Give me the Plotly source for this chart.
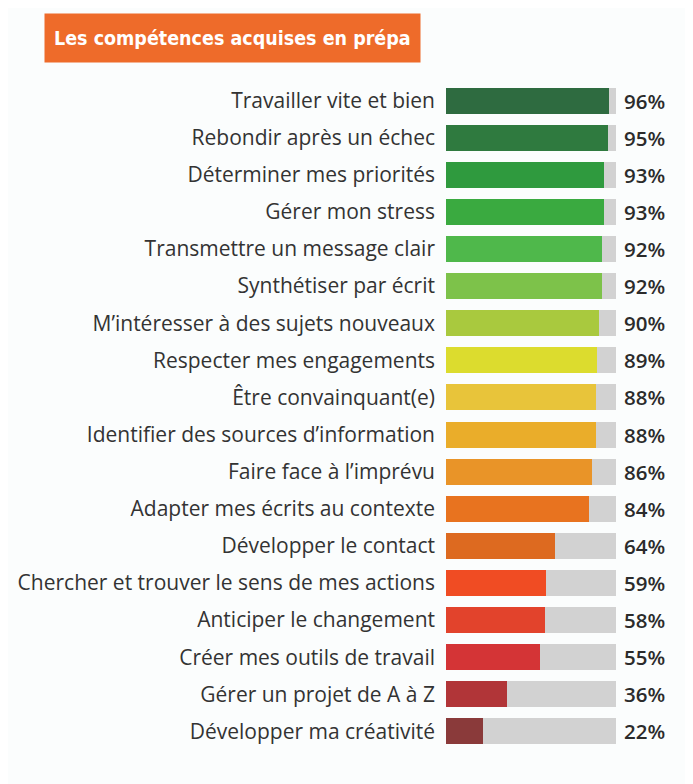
import plotly.graph_objects as go

# compétences, dans l'ordre du haut vers le bas
skills = [
    "Travailler vite et bien",
    "Rebondir après un échec",
    "Déterminer mes priorités",
    "Gérer mon stress",
    "Transmettre un message clair",
    "Synthétiser par écrit",
    "M’intéresser à des sujets nouveaux",
    "Respecter mes engagements",
    "Être convainquant(e)",
    "Identifier des sources d’information",
    "Faire face à l’imprévu",
    "Adapter mes écrits au contexte",
    "Développer le contact",
    "Chercher et trouver le sens de mes actions",
    "Anticiper le changement",
    "Créer mes outils de travail",
    "Gérer un projet de A à Z",
    "Développer ma créativité",
]
pct = [96, 95, 93, 93, 92, 92, 90, 89, 88, 88, 86, 84, 64, 59, 58, 55, 36, 22]
colors = [
    "#2e6b40", "#2f7a3f", "#2f9a3e", "#3aaa40", "#4fb84b", "#7dc24a",
    "#a9c93e", "#dcdc2e", "#e8c43a", "#eaad2a", "#e99428", "#e8731f",
    "#dd6a20", "#f04c23", "#e2432c", "#d43436", "#b13538", "#8a3a3a",
]
rest = [100 - p for p in pct]

fig = go.Figure()
fig.add_trace(go.Bar(y=skills, x=pct, orientation="h",
                     marker=dict(color=colors, line=dict(width=0)),
                     hoverinfo="skip"))
fig.add_trace(go.Bar(y=skills, x=rest, orientation="h",
                     marker=dict(color="#d2d2d2", line=dict(width=0)),
                     hoverinfo="skip"))

for s, p in zip(skills, pct):
    fig.add_annotation(x=100, y=s, xref="x", yref="y", text=f"{p}%",
                       showarrow=False, xanchor="left", xshift=6,
                       font=dict(family="Open Sans", size=20.5, color="#2b2b2b",
                                 weight=600))

# titre dans un bandeau orange
fig.add_annotation(x=-2.365, y=1.103, xref="paper", yref="paper",
                   xanchor="left", yanchor="top", showarrow=False,
                   text="<b>Les compétences acquises en prépa</b>",
                   font=dict(family="DejaVu Sans Condensed", size=19.5, color="white"),
                   bgcolor="#ee6b2a", borderpad=9, height=30)

fig.update_layout(
    width=685, height=776,
    barmode="stack", bargap=0.3,
    showlegend=False,
    plot_bgcolor="#fbfdfd", paper_bgcolor="#fbfdfd",
    margin=dict(l=438, r=77, t=74, b=34),
    xaxis=dict(range=[0, 100], visible=False, fixedrange=True, automargin=False),
    yaxis=dict(autorange="reversed", ticks="", ticklabelstandoff=10,
               automargin=False,
               tickfont=dict(family="Open Sans", size=21, color="#333333"),
               showgrid=False, fixedrange=True),
)

fig.write_html("out.html")
